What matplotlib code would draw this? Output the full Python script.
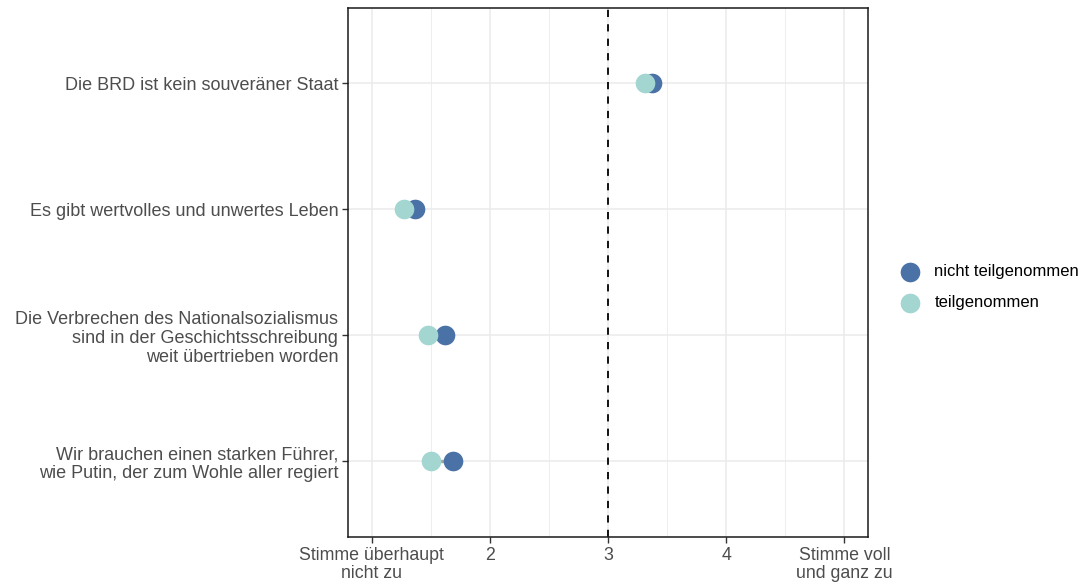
import numpy as np
import matplotlib.pyplot as plt

plt.rcParams['font.family'] = ['Liberation Sans', 'DejaVu Sans']

# DATA
items = [
    "Die BRD ist kein souveräner Staat",
    "Es gibt wertvolles und unwertes Leben",
    "Die Verbrechen des Nationalsozialismus\nsind in der Geschichtsschreibung\nweit übertrieben worden",
    "Wir brauchen einen starken Führer,\nwie Putin, der zum Wohle aller regiert",
]
nicht_teil = [3.37, 1.37, 1.62, 1.69]
teil = [3.31, 1.27, 1.48, 1.50]
xticks = [1, 2, 3, 4, 5]
xticklabels = ["Stimme überhaupt\nnicht zu", "2", "3", "4", "Stimme voll\nund ganz zu"]

col_nicht = "#4a72a6"
col_teil = "#a3d6d1"
txt = "#4d4d4d"

fig = plt.figure(figsize=(10.86, 5.85), dpi=100)
ax = fig.add_axes([0.3204, 0.082, 0.4789, 0.9045])

y = np.arange(len(items))[::-1] + 1

for yi, a, b in zip(y, nicht_teil, teil):
    ax.plot([a, b], [yi, yi], color="#a6a6a6", lw=2.5, zorder=2, solid_capstyle="butt")
ax.scatter(nicht_teil, y, s=200, color=col_nicht, zorder=3, label="nicht teilgenommen", linewidths=0)
ax.scatter(teil, y, s=200, color=col_teil, zorder=4, label="teilgenommen", linewidths=0)

ax.axvline(3, color="black", ls=(0, (4, 4)), lw=1.3, zorder=2.5)

ax.set_xlim(0.8, 5.2)
ax.set_ylim(0.4, 4.6)
ax.set_xticks(xticks)
ax.set_xticklabels(xticklabels, color=txt, fontsize=12.8, linespacing=1.1)
ax.set_xticks([1.5, 2.5, 3.5, 4.5], minor=True)
ax.set_yticks(y)
ax.set_yticklabels(items, color=txt, fontsize=13.0, linespacing=1.15)
ax.grid(True, which="major", color="#ebebeb", lw=1.1, zorder=0)
ax.grid(True, which="minor", axis="x", color="#ebebeb", lw=0.6, zorder=0)
ax.set_axisbelow(True)
ax.tick_params(axis="both", which="major", length=4, color="#333333", width=1.0, pad=3)
ax.tick_params(axis="x", which="minor", length=0)
for s in ax.spines.values():
    s.set_color("#1a1a1a")
    s.set_linewidth(1.1)

leg = fig.legend(loc="center left", bbox_to_anchor=(0.809, 0.509), frameon=False,
                 fontsize=12.0, handletextpad=0.45, labelspacing=0.95, markerscale=1.0)

fig.savefig("out.png", dpi=100)
